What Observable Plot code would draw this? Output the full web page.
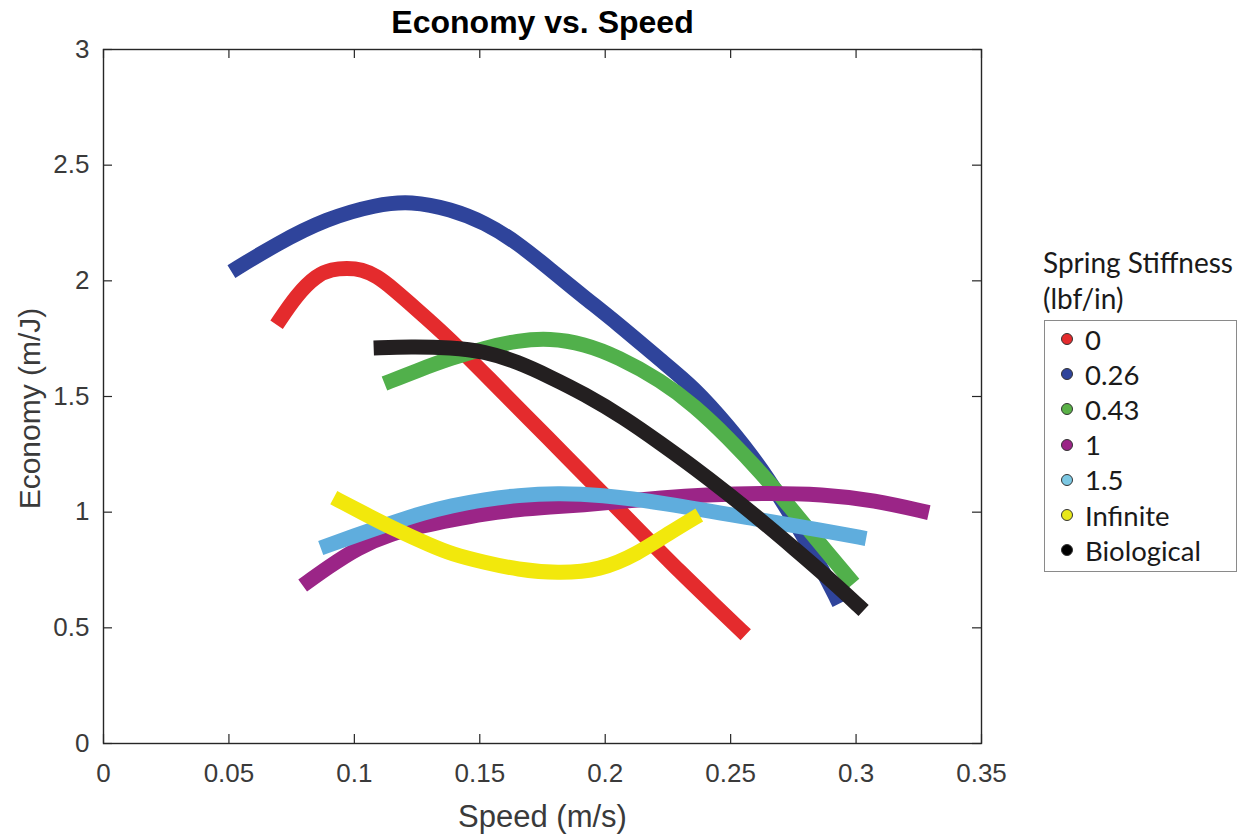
<!DOCTYPE html>
<html>
<head>
<meta charset="utf-8">
<script src="https://cdn.jsdelivr.net/npm/d3@7"></script>
<script src="https://cdn.jsdelivr.net/npm/@observablehq/plot@0.6"></script>
<style>
  body { margin: 0; background: #fff; }
  #wrap { position: relative; width: 1241px; height: 835px; overflow: hidden; }
  #legend-title { position: absolute; left: 1043px; top: 244px; font-family: Lato, "Open Sans", sans-serif; font-size: 28px; line-height: 36px; color: #1a1a1a; white-space: nowrap; }
  #legend { position: absolute; left: 1044px; top: 320px; width: 193px; height: 252px; border: 1.5px solid #8a8a8a; box-sizing: border-box; background: #fff; }
  .item { position: absolute; left: 0; height: 30px; display: flex; align-items: center; font-family: Lato, "Open Sans", sans-serif; font-size: 27.5px; color: #1a1a1a; white-space: nowrap; }
  .dot { width: 12px; height: 12px; border-radius: 50%; border: 1.2px solid #333; margin-left: 16px; margin-right: 12px; box-sizing: border-box; }
</style>
</head>
<body>
<div id="wrap"></div>
<script>
// ---- data ----
const stiffness = ["0", "0.26", "0.43", "1", "1.5", "Infinite", "Biological"];
const lineColors = ["#e42b2d", "#2f449b", "#51b04b", "#9b2587", "#5faddd", "#f2e80c", "#231f20"];
const legendColors = ["#e42b2d", "#2f449b", "#5ab147", "#9b2587", "#7cc8e3", "#e8e81a", "#000000"];
const legendTitle = ["Spring Stiffness", "(lbf/in)"];

const xTicks = [0, 0.05, 0.1, 0.15, 0.2, 0.25, 0.3, 0.35];
const xTickLabels = ["0", "0.05", "0.1", "0.15", "0.2", "0.25", "0.3", "0.35"];
const yTicks = [0, 0.5, 1, 1.5, 2, 2.5, 3];
const yTickLabels = ["0", "0.5", "1", "1.5", "2", "2.5", "3"];

const speed0 = [0.069, 0.077, 0.085, 0.091, 0.097, 0.103, 0.109, 0.115, 0.125, 0.137, 0.154, 0.169, 0.185, 0.2, 0.215, 0.23, 0.243, 0.256];
const econ0  = [1.81, 1.94, 2.025, 2.05, 2.055, 2.05, 2.02, 1.97, 1.875, 1.76, 1.575, 1.41, 1.235, 1.07, 0.905, 0.74, 0.605, 0.47];

const speed026 = [0.051, 0.069, 0.089, 0.109, 0.1225, 0.1385, 0.152, 0.165, 0.178, 0.1915, 0.205, 0.2223, 0.2355, 0.249, 0.2622, 0.2754, 0.2861, 0.2933];
const econ026  = [2.04, 2.16, 2.27, 2.33, 2.345, 2.31, 2.252, 2.165, 2.05, 1.93, 1.815, 1.655, 1.538, 1.374, 1.193, 0.964, 0.761, 0.605];

const speed043 = [0.112, 0.125, 0.1385, 0.152, 0.165, 0.178, 0.1915, 0.205, 0.2223, 0.2355, 0.249, 0.2622, 0.2754, 0.2889, 0.299];
const econ043  = [1.556, 1.612, 1.666, 1.71, 1.742, 1.752, 1.728, 1.672, 1.569, 1.461, 1.322, 1.17, 1.0, 0.821, 0.691];

const speed1 = [0.0794, 0.0894, 0.1014, 0.1145, 0.1277, 0.1385, 0.152, 0.165, 0.178, 0.1915, 0.205, 0.2223, 0.24, 0.262, 0.287, 0.307, 0.329];
const econ1  = [0.683, 0.761, 0.847, 0.907, 0.942, 0.966, 0.994, 1.011, 1.022, 1.032, 1.045, 1.062, 1.075, 1.083, 1.078, 1.052, 0.998];

const speed15 = [0.0866, 0.0998, 0.1145, 0.1277, 0.1385, 0.152, 0.165, 0.181, 0.198, 0.2223, 0.2622, 0.287, 0.304];
const econ15  = [0.845, 0.897, 0.952, 0.998, 1.028, 1.055, 1.073, 1.082, 1.075, 1.042, 0.966, 0.92, 0.886];

const speedInf = [0.0918, 0.1038, 0.1173, 0.1305, 0.1385, 0.152, 0.165, 0.181, 0.198, 0.213, 0.225, 0.2375];
const econInf  = [1.063, 0.994, 0.92, 0.856, 0.82, 0.782, 0.752, 0.735, 0.748, 0.821, 0.907, 0.988];

const speedBio = [0.1077, 0.1225, 0.1385, 0.152, 0.165, 0.178, 0.1915, 0.2075, 0.2223, 0.2355, 0.249, 0.2622, 0.2754, 0.2889, 0.303];
const econBio  = [1.71, 1.716, 1.712, 1.695, 1.65, 1.585, 1.512, 1.409, 1.296, 1.193, 1.08, 0.964, 0.843, 0.717, 0.575];

const speeds = [speed0, speed026, speed043, speed1, speed15, speedInf, speedBio];
const econs  = [econ0, econ026, econ043, econ1, econ15, econInf, econBio];

const rows = stiffness.flatMap((name, k) => speeds[k].map((s, i) => ({series: name, speed: s, economy: econs[k][i]})));

const axisColor = "#262626";
const font = "'Liberation Sans', Arial, Helvetica, sans-serif";

const chart = Plot.plot({
  width: 1241,
  height: 835,
  marginLeft: 103,
  marginRight: 260,
  marginTop: 49,
  marginBottom: 92,
  style: {fontFamily: font, color: "#3a3a3a", background: "#fff", overflow: "visible"},
  x: {domain: [0, 0.35]},
  y: {domain: [0, 3]},
  color: {domain: stiffness, range: lineColors},
  marks: [
    Plot.line(rows, {x: "speed", y: "economy", z: "series", stroke: "series", strokeWidth: 15, curve: "basis", strokeLinecap: "butt", strokeLinejoin: "round"}),
    Plot.frame({stroke: axisColor, strokeWidth: 1.4}),
    Plot.tickX(xTicks, {x: d => d, insetTop: 685, stroke: axisColor, strokeWidth: 1.2}),
    Plot.tickX(xTicks, {x: d => d, insetBottom: 685, stroke: axisColor, strokeWidth: 1.2}),
    Plot.tickY(yTicks, {y: d => d, insetLeft: 869, stroke: axisColor, strokeWidth: 1.2}),
    Plot.tickY(yTicks, {y: d => d, insetRight: 869, stroke: axisColor, strokeWidth: 1.2}),
    Plot.axisX({ticks: xTicks, tickFormat: d => xTickLabels[xTicks.indexOf(d)], tickSize: 0, tickPadding: 20, fontSize: 26, label: null}),
    Plot.axisY({ticks: yTicks, tickFormat: d => yTickLabels[yTicks.indexOf(d)], tickSize: 0, tickPadding: 14, fontSize: 26, label: null}),
    Plot.text(["Economy vs. Speed"], {text: d => d, frameAnchor: "top", dy: -27, lineAnchor: "middle", fontSize: 32, fontWeight: "bold", fill: "#000"}),
    Plot.text(["Speed (m/s)"], {text: d => d, frameAnchor: "bottom", dy: 74, lineAnchor: "middle", textAnchor: "middle", fontSize: 31, fill: "#3a3a3a"}),
    Plot.text(["Economy (m/J)"], {text: d => d, frameAnchor: "left", dx: -73, dy: 12, rotate: -90, lineAnchor: "middle", textAnchor: "middle", fontSize: 30, fill: "#3a3a3a"})
  ]
});

const wrap = document.getElementById("wrap");
wrap.appendChild(chart);

const lt = d3.select(wrap).append("div").attr("id", "legend-title");
lt.selectAll("div").data(legendTitle).join("div").text(d => d);

const lg = d3.select(wrap).append("div").attr("id", "legend");
const items = lg.selectAll(".item").data(stiffness).join("div")
  .attr("class", "item")
  .style("top", (d, i) => (3 + i * 35.2) + "px");
items.append("div").attr("class", "dot").style("background", (d, i) => legendColors[i]);
items.append("span").text(d => d);
</script>
</body>
</html>
